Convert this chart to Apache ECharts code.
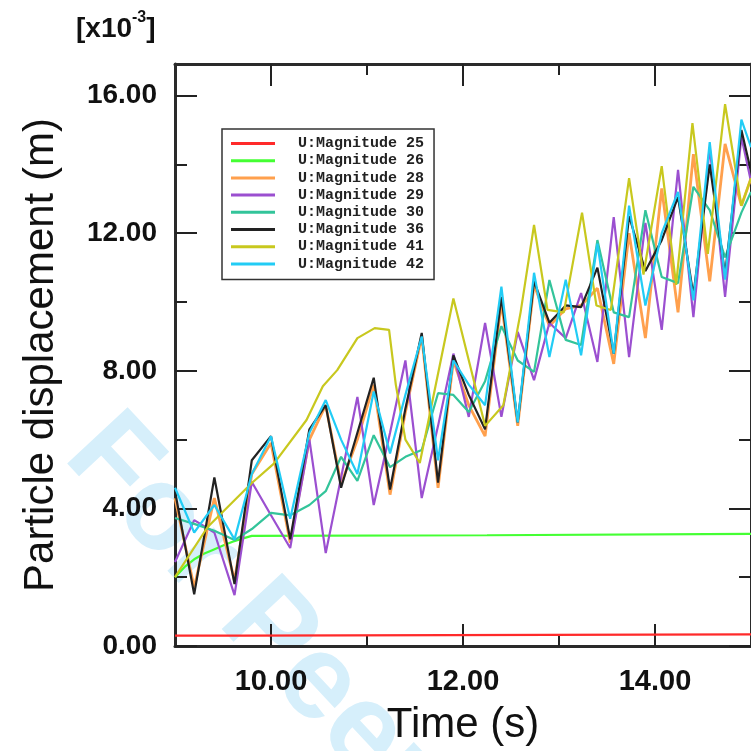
<!DOCTYPE html>
<html>
<head>
<meta charset="utf-8">
<script src="https://cdn.jsdelivr.net/npm/echarts@6/dist/echarts.min.js"></script>
<style>html,body{margin:0;padding:0;background:#fff}#c{width:751px;height:751px}</style>
</head>
<body>
<div id="c"></div>
<script>
// ---- data (values in units of 1e-3 m) ----
const seriesNames = ['U:Magnitude 25','U:Magnitude 26','U:Magnitude 28','U:Magnitude 29','U:Magnitude 30','U:Magnitude 36','U:Magnitude 41','U:Magnitude 42'];
const xMajorTicks = [10, 12, 14];
const xMinorTicks = [11, 13];
const yMajorTicks = [0, 4, 8, 12, 16];
const yMinorTicks = [2, 6, 10, 14];

const tRed = [9.0, 9.72, 9.73, 15.0];
const mag25 = [0.30, 0.30, 0.34, 0.34];

const tGreen = [9.0, 9.1, 9.2, 9.3, 9.4, 9.5, 9.6, 9.7, 9.8, 12.25, 12.26, 15.0];
const mag26 = [2.0, 2.3, 2.52, 2.68, 2.8, 2.92, 3.03, 3.12, 3.2, 3.22, 3.26, 3.26];

const T = [9.0, 9.2, 9.41, 9.62, 9.8, 10.0, 10.2, 10.4, 10.57, 10.73, 10.9, 11.07, 11.24, 11.4, 11.57, 11.74, 11.9, 12.06, 12.23, 12.4, 12.57, 12.74, 12.9, 13.07, 13.23, 13.4, 13.57, 13.73, 13.9, 14.07, 14.24, 14.4, 14.57, 14.73, 14.9, 15.0];
const mag28 = [4.3, 1.7, 4.3, 1.9, 5.0, 5.9, 3.0, 6.0, 7.0, 4.7, 6.0, 7.6, 4.4, 6.8, 9.0, 4.6, 8.3, 7.0, 6.1, 10.0, 6.4, 10.5, 9.3, 9.8, 9.9, 10.4, 8.2, 12.0, 8.95, 13.3, 9.7, 14.3, 10.6, 14.6, 12.8, 13.6];
const mag29 = [2.44, 3.66, 3.3, 1.48, 4.77, 3.8, 2.85, 6.0, 2.7, 4.9, 7.24, 4.1, 6.2, 8.3, 4.3, 6.4, 8.5, 6.66, 9.39, 6.66, 9.13, 7.73, 9.39, 8.95, 10.26, 8.26, 12.47, 8.4, 12.3, 9.19, 13.84, 9.56, 14.5, 10.15, 14.8, 13.5];
const mag30 = [3.72, 3.55, 3.35, 3.08, 3.4, 3.87, 3.8, 4.1, 4.5, 5.5, 4.8, 6.13, 5.2, 5.5, 5.7, 7.35, 7.3, 6.8, 7.7, 9.3, 8.3, 7.97, 10.64, 8.9, 8.75, 11.8, 9.7, 9.56, 12.67, 10.73, 10.55, 13.35, 12.67, 11.3, 12.6, 13.2];
const mag36 = [4.5, 1.5, 4.9, 1.8, 5.4, 6.1, 3.1, 6.3, 7.0, 4.6, 6.2, 7.8, 4.55, 6.9, 9.1, 4.75, 8.45, 7.3, 6.3, 10.15, 6.5, 10.6, 9.4, 9.9, 9.85, 11.0, 8.5, 12.5, 10.9, 11.8, 13.05, 10.2, 14.0, 10.8, 15.0, 13.8];
const mag42 = [4.6, 3.3, 4.1, 3.1, 5.0, 6.1, 3.7, 6.2, 7.15, 6.0, 5.0, 7.4, 5.6, 7.3, 9.0, 5.4, 8.3, 7.6, 7.0, 10.45, 6.5, 10.85, 8.4, 10.65, 8.45, 11.7, 8.5, 12.8, 9.9, 12.0, 13.2, 10.05, 14.65, 10.65, 15.3, 14.5];

const tOlive = [9.0, 9.34, 9.8, 10.03, 10.37, 10.54, 10.69, 10.9, 11.08, 11.23, 11.3, 11.4, 11.55, 11.9, 12.23, 12.42, 12.6, 12.74, 12.88, 13.05, 13.24, 13.39, 13.54, 13.73, 13.88, 14.07, 14.22, 14.39, 14.55, 14.73, 14.9, 15.0];
const mag41 = [2.0, 3.46, 4.74, 5.3, 6.57, 7.55, 8.02, 8.95, 9.24, 9.19, 7.6, 6.0, 5.32, 10.1, 6.4, 7.0, 9.7, 12.24, 9.77, 9.7, 12.6, 9.9, 9.77, 13.6, 10.8, 13.95, 10.5, 15.2, 11.4, 15.75, 12.8, 13.6];

const colors = ['#ff2a2a', '#44ff33', '#ffa04d', '#9b4fd0', '#33c49a', '#222222', '#c8c81e', '#22ccf5'];

// ---- chart ----
const pair = (ts, vs) => ts.map((t, i) => [t, vs[i]]);
const seriesData = [
  pair(tRed, mag25), pair(tGreen, mag26), pair(T, mag28), pair(T, mag29),
  pair(T, mag30), pair(T, mag36), pair(tOlive, mag41), pair(T, mag42)
];
const widths = [2.2, 2.2, 2.8, 2.2, 2.2, 2.2, 2.2, 2.2];

const XMIN = 9, XMAX = 15, YMIN = 0, YMAX = 16.92;
const lblFont = {fontFamily: 'Liberation Sans', fontWeight: 'bold', color: '#111'};

function xAx(pos, ticks, len, labels) {
  return {
    type: 'value', position: pos, min: XMIN, max: XMAX,
    splitLine: {show: false},
    axisLine: {show: labels !== null, onZero: false, lineStyle: {color: '#2a2a2a', width: 3}},
    axisTick: {show: true, inside: true, length: len, customValues: ticks, lineStyle: {color: '#222', width: 2}},
    axisLabel: labels ? Object.assign({show: true, customValues: ticks, margin: 21, fontSize: 29, formatter: v => v.toFixed(2)}, lblFont) : {show: false},
  };
}
function yAx(pos, ticks, len, labels) {
  return {
    type: 'value', position: pos, min: YMIN, max: YMAX,
    splitLine: {show: false},
    axisLine: {show: labels !== null, onZero: false, lineStyle: {color: '#2a2a2a', width: 3}},
    axisTick: {show: true, inside: true, length: len, customValues: ticks, lineStyle: {color: '#222', width: 2}},
    axisLabel: labels ? Object.assign({show: true, customValues: ticks, margin: 18, fontSize: 28, formatter: v => v.toFixed(2)}, lblFont) : {show: false},
  };
}

const xAxes = [
  Object.assign(xAx('bottom', xMajorTicks, 22, true), {
    name: 'Time (s)', nameLocation: 'middle', nameGap: 58,
    nameTextStyle: {fontFamily: 'Liberation Sans', fontSize: 42, color: '#111', verticalAlign: 'top'}
  }),
  xAx('bottom', xMinorTicks, 11, null),
  xAx('top', xMajorTicks, 22, false),
  xAx('top', xMinorTicks, 11, null)
];
const yAxes = [
  Object.assign(yAx('left', yMajorTicks, 22, true), {
    name: 'Particle displacement (m)', nameLocation: 'middle', nameGap: 113, nameRotate: 90,
    nameTextStyle: {fontFamily: 'Liberation Sans', fontSize: 42, color: '#111'}
  }),
  yAx('left', yMinorTicks, 12, null),
  yAx('right', yMajorTicks, 22, false),
  yAx('right', yMinorTicks, 12, null)
];

const option = {
  animation: false,
  backgroundColor: '#ffffff',
  title: {
    text: '{a|[x10}{b|-3}{a|]}', left: 71, top: 5,
    textStyle: {rich: {
      a: {fontFamily: 'Liberation Sans', fontSize: 28, fontWeight: 'bold', color: '#111', lineHeight: 38},
      b: {fontFamily: 'Liberation Sans', fontSize: 16, fontWeight: 'bold', color: '#111', verticalAlign: 'top', lineHeight: 22}
    }}
  },
  graphic: [{
    type: 'text', x: 42, y: 476, rotation: -0.82, z: 0, silent: true,
    style: {text: 'For Peer Review', fontSize: 120, fontWeight: 'bold', fontFamily: 'Liberation Sans', fill: '#d6effb', verticalAlign: 'bottom'}
  }],
  grid: {left: 175, top: 64, width: 584, height: 582, containLabel: false},
  xAxis: xAxes,
  yAxis: yAxes,
  legend: {
    orient: 'vertical', left: 222, top: 129,
    padding: [7, 10, 8, 9], itemGap: 2.2,
    itemWidth: 44, itemHeight: 3, icon: 'rect',
    borderColor: '#333', borderWidth: 1.5, backgroundColor: '#fff',
    textStyle: {fontFamily: 'Liberation Mono', fontWeight: 'bold', fontSize: 15, color: '#222', lineHeight: 14},
    formatter: n => '  ' + n,
    data: seriesNames
  },
  series: seriesNames.map((n, i) => ({
    name: n, type: 'line', data: seriesData[i], xAxisIndex: 0, yAxisIndex: 0,
    showSymbol: false, symbol: 'none', smooth: false, clip: true,
    lineStyle: {color: colors[i], width: widths[i]}, itemStyle: {color: colors[i]},
    z: 3
  }))
};

const chart = echarts.init(document.getElementById('c'), null, {renderer: 'canvas'});
chart.setOption(option);
</script>
</body>
</html>
